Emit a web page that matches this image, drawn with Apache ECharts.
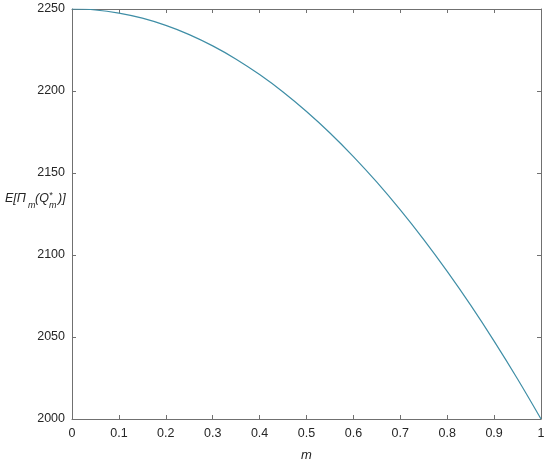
<!DOCTYPE html>
<html>
<head>
<meta charset="utf-8">
<script src="https://cdn.jsdelivr.net/npm/echarts@6/dist/echarts.min.js"></script>
<style>html,body{margin:0;padding:0;background:#fff}#c{width:550px;height:467px}</style>
</head>
<body>
<div id="c"></div>
<script>
var mValues = [0, 0.05, 0.1, 0.15, 0.2, 0.25, 0.3, 0.35, 0.4, 0.45, 0.5, 0.55, 0.6, 0.65, 0.7, 0.75, 0.8, 0.85, 0.9, 0.95, 1];
var profitValues = [2250, 2249.4, 2247.5, 2244.4, 2240, 2234.4, 2227.5, 2219.4, 2210, 2199.4, 2187.5, 2174.4, 2160, 2144.4, 2127.5, 2109.4, 2090, 2069.4, 2047.5, 2024.4, 2000];
var xTicks = [0, 0.1, 0.2, 0.3, 0.4, 0.5, 0.6, 0.7, 0.8, 0.9, 1];
var yTicks = [2000, 2050, 2100, 2150, 2200, 2250];

var axisColor = '#707070';
var textColor = '#262626';
var font = 'Liberation Sans, Arial, sans-serif';
var data = mValues.map(function (m, i) { return [m, profitValues[i]]; });

var chart = echarts.init(document.getElementById('c'), null, {renderer: 'canvas'});
var baseX = {
  type: 'value', min: 0, max: 1, interval: 0.1,
  axisLine: {show: true, onZero: false, lineStyle: {color: axisColor, width: 1}},
  axisTick: {show: true, inside: true, length: 4, lineStyle: {color: axisColor}},
  splitLine: {show: false}
};
var baseY = {
  type: 'value', min: 2000, max: 2250, interval: 50,
  axisLine: {show: true, onZero: false, lineStyle: {color: axisColor, width: 1}},
  axisTick: {show: true, inside: true, length: 4, lineStyle: {color: axisColor}},
  splitLine: {show: false}
};
function lab(fs, s) { return {fontFamily: font, fontStyle: 'italic', fontSize: fs, fill: textColor, text: s, verticalAlign: 'middle'}; }
chart.setOption({
  animation: false,
  backgroundColor: '#ffffff',
  grid: {left: 72, right: 9, top: 9, bottom: 43},
  xAxis: [
    Object.assign({}, baseX, {
      position: 'bottom',
      name: 'm', nameLocation: 'middle', nameGap: 30,
      nameTextStyle: {fontFamily: font, fontStyle: 'italic', fontSize: 13, color: textColor},
      axisLabel: {show: true, margin: 8, fontFamily: font, fontSize: 12.5, color: textColor,
        formatter: function (v) { var r = Math.round(v * 10) / 10; return xTicks.indexOf(r) >= 0 ? String(r) : ''; }}
    }),
    Object.assign({}, baseX, {position: 'top', axisLabel: {show: false}})
  ],
  yAxis: [
    Object.assign({}, baseY, {
      position: 'left',
      axisLabel: {show: true, margin: 7, fontFamily: font, fontSize: 12.5, color: textColor,
        formatter: function (v) { return yTicks.indexOf(v) >= 0 ? String(v) : ''; }}
    }),
    Object.assign({}, baseY, {position: 'right', axisLabel: {show: false}})
  ],
  series: [{
    type: 'line', xAxisIndex: 0, yAxisIndex: 0,
    data: data, smooth: 0.4, showSymbol: false,
    lineStyle: {color: '#3f8ea6', width: 1.2}
  }],
  graphic: [
    {type: 'text', x: 5, y: 199, style: lab(12.5, 'E[Π')},
    {type: 'text', x: 28, y: 205, style: lab(9, 'm')},
    {type: 'text', x: 35, y: 199, style: lab(12.5, '(Q')},
    {type: 'text', x: 49, y: 195, style: lab(9, '*')},
    {type: 'text', x: 49, y: 205, style: lab(9, 'm')},
    {type: 'text', x: 58, y: 199, style: lab(12.5, ')]')}
  ]
});
</script>
</body>
</html>
